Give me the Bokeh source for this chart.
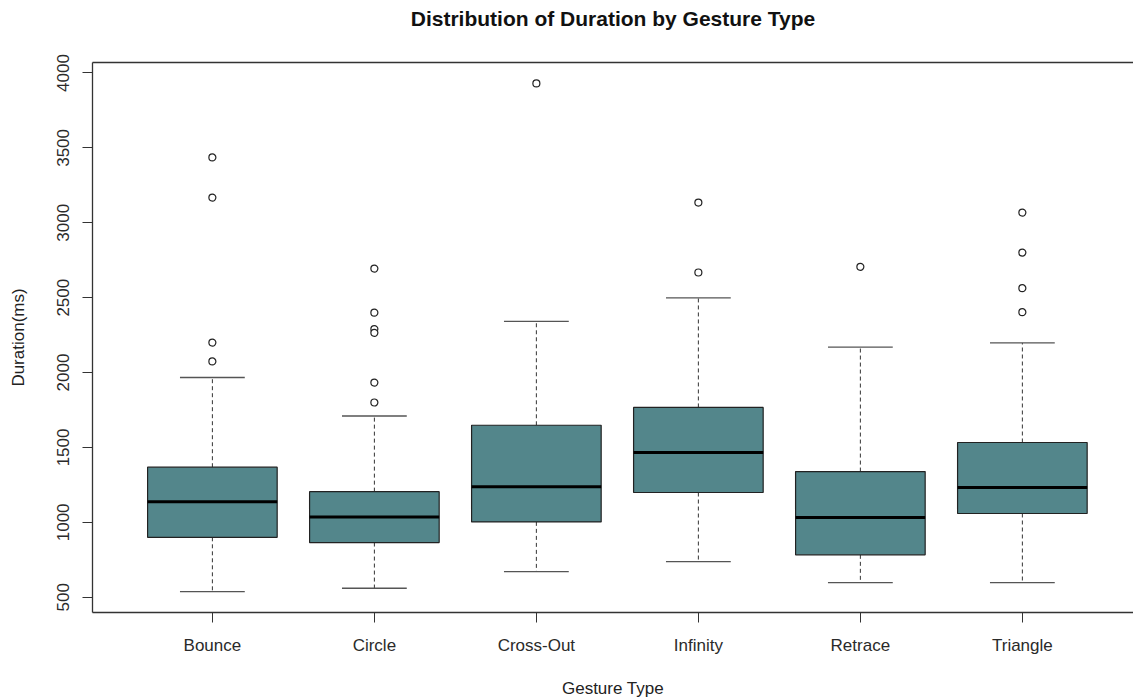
from bokeh.plotting import figure
from bokeh.models import Range1d, FixedTicker, LinearAxis, ColumnDataSource
from bokeh.embed import file_html
from bokeh.resources import INLINE

# ---- data ----
categories = ["Bounce", "Circle", "Cross-Out", "Infinity", "Retrace", "Triangle"]
lower_whisker = [538, 560, 671, 738, 598, 598]
q1 = [900, 865, 1003, 1199, 783, 1059]
median = [1137, 1035, 1237, 1466, 1032, 1232]
q3 = [1368, 1205, 1648, 1767, 1339, 1533]
upper_whisker = [1967, 1710, 2341, 2499, 2170, 2198]
outliers = {
    "Bounce": [3436, 3168, 2200, 2074],
    "Circle": [2694, 2400, 2290, 2265, 1933, 1800],
    "Cross-Out": [3930],
    "Infinity": [3135, 2668],
    "Retrace": [2706],
    "Triangle": [3068, 2801, 2563, 2403],
}
y_ticks = [500, 1000, 1500, 2000, 2500, 3000, 3500, 4000]
title_text = "Distribution of Duration by Gesture Type"

BOX_W = 0.8
CAP_W = 0.4
FILL = "#53868B"
DARK = "#333333"
FONT = "Liberation Sans"

xs = list(range(1, len(categories) + 1))
src = ColumnDataSource(dict(
    x=xs, q1=q1, q3=q3, med=median, lo=lower_whisker, hi=upper_whisker,
    x0=[x - BOX_W / 2 for x in xs], x1=[x + BOX_W / 2 for x in xs],
    c0=[x - CAP_W / 2 for x in xs], c1=[x + CAP_W / 2 for x in xs],
))

ox, oy = [], []
for i, c in enumerate(categories):
    for v in outliers[c]:
        ox.append(i + 1)
        oy.append(v)

p = figure(width=1133, height=700, output_backend="svg", toolbar_location=None,
           x_range=Range1d(0.26, 6.686), y_range=Range1d(398, 4070),
           min_border_left=92, min_border_right=0, min_border_top=62, min_border_bottom=88,
           background_fill_color="white", border_fill_color="white")
p.outline_line_color = None
p.xgrid.visible = False
p.ygrid.visible = False

# whiskers
p.segment(x0="x", y0="q3", x1="x", y1="hi", source=src, line_color=DARK,
          line_width=1, line_dash="4 3")
p.segment(x0="x", y0="q1", x1="x", y1="lo", source=src, line_color=DARK,
          line_width=1, line_dash="4 3")
# caps
p.segment(x0="c0", y0="hi", x1="c1", y1="hi", source=src, line_color="#555555", line_width=1.3)
p.segment(x0="c0", y0="lo", x1="c1", y1="lo", source=src, line_color="#555555", line_width=1.3)
# boxes
p.vbar(x="x", width=BOX_W, top="q3", bottom="q1", source=src,
       fill_color=FILL, line_color="#222222", line_width=1.2)
# medians
p.segment(x0="x0", y0="med", x1="x1", y1="med", source=src, line_color="black", line_width=3)
# outliers
p.scatter(ox, oy, marker="circle", size=7, fill_color="white", line_color="#222222", line_width=1.2)

# axes
xa = p.xaxis[0]
xa.ticker = FixedTicker(ticks=xs)
xa.major_label_overrides = {x: c for x, c in zip(xs, categories)}
ya = p.yaxis[0]
ya.ticker = FixedTicker(ticks=y_ticks)
ya.major_label_orientation = "vertical"

for ax in (xa, ya):
    ax.axis_line_color = DARK
    ax.axis_line_width = 1.3
    ax.major_tick_in = 0
    ax.major_tick_out = 10
    ax.major_tick_line_color = DARK
    ax.minor_tick_line_color = None
    ax.major_label_text_font = FONT
    ax.major_label_text_font_size = "17px"
    ax.major_label_text_color = "#2a2a2a"
    ax.axis_label_text_font = FONT
    ax.axis_label_text_font_size = "17px"
    ax.axis_label_text_font_style = "normal"
    ax.axis_label_text_color = "#222222"

xa.axis_label = "Gesture Type"
xa.major_label_standoff = 13
xa.axis_label_standoff = 21
ya.axis_label = "Duration(ms)"
ya.major_label_standoff = 13
ya.axis_label_standoff = 27

# top frame line, carrying the chart title as its label
top = LinearAxis(ticker=FixedTicker(ticks=[]), axis_line_color=DARK, axis_line_width=1.3,
                 major_label_text_font_size="0px", major_tick_line_color=None,
                 major_tick_out=0, major_label_standoff=0,
                 minor_tick_line_color=None, axis_label=title_text,
                 axis_label_text_font=FONT, axis_label_text_font_size="21px",
                 axis_label_text_font_style="bold", axis_label_text_color="#111111",
                 axis_label_standoff=33)
p.add_layout(top, "above")

open("out.html", "w").write(file_html(p, INLINE))
